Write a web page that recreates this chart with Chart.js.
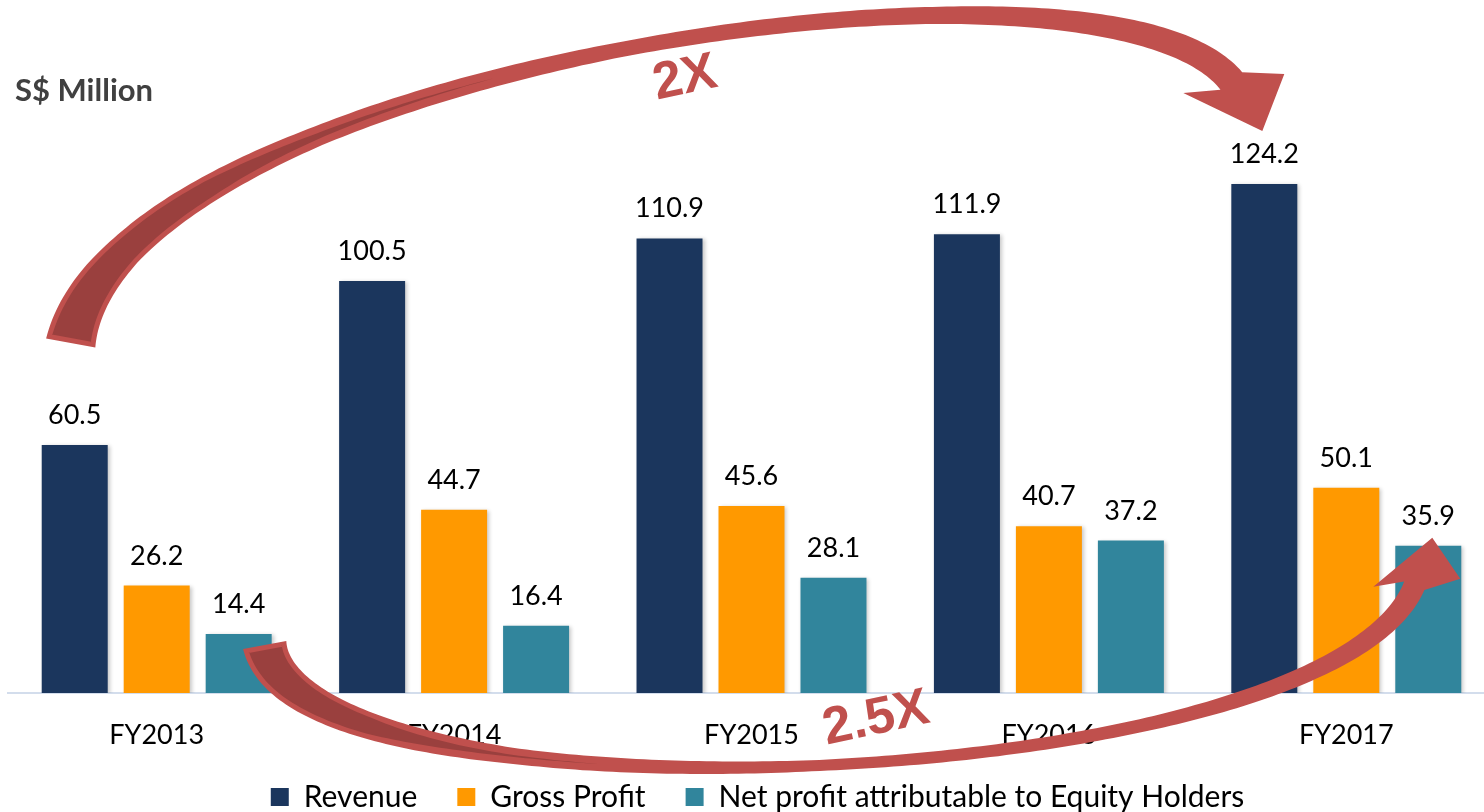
<!DOCTYPE html>
<html><head><meta charset="utf-8">
<script src="https://cdn.jsdelivr.net/npm/chart.js@4.4.1/dist/chart.umd.min.js"></script>
<style>
html,body{margin:0;padding:0;overflow:hidden;background:#fff;width:1484px;height:812px}
#wrap{position:absolute;left:0;top:0;width:1500px;height:831px}
</style></head><body>
<div id="wrap"><canvas id="c"></canvas></div>
<script>
const categories = ['FY2013','FY2014','FY2015','FY2016','FY2017'];
const revenue = [60.5,100.5,110.9,111.9,124.2];
const grossProfit = [26.2,44.7,45.6,40.7,50.1];
const netProfit = [14.4,16.4,28.1,37.2,35.9];
const seriesNames = ['Revenue','Gross Profit','Net profit attributable to Equity Holders'];
const unitLabel = 'S$ Million';
const growthLabels = ['2X','2.5X'];

const FONT = 'Lato, "Liberation Sans", sans-serif';
const COLORS = ['#1B365D','#FF9900','#31859C'];
const RED = '#C0504D', DARK = '#9A403E';

function bez(a,t){const u=1-t;const k0=u*u*u,k1=3*u*u*t,k2=3*u*t*t,k3=t*t*t;
  return {x:k0*a.p0.x+k1*a.c1.x+k2*a.c2.x+k3*a.p3.x,y:k0*a.p0.y+k1*a.c1.y+k2*a.c2.y+k3*a.p3.y};}
function bezD(a,t){const u=1-t;
  return {x:3*u*u*(a.c1.x-a.p0.x)+6*u*t*(a.c2.x-a.c1.x)+3*t*t*(a.p3.x-a.c2.x),
          y:3*u*u*(a.c1.y-a.p0.y)+6*u*t*(a.c2.y-a.c1.y)+3*t*t*(a.p3.y-a.c2.y)};}
function widthAt(stops,t){for(let i=1;i<stops.length;i++){if(t<=stops[i][0]){const [t0,w0]=stops[i-1],[t1,w1]=stops[i];return w0+(w1-w0)*(t-t0)/(t1-t0);}}return stops[stops.length-1][1];}

function drawArrow(ctx,a){
  const N=200,L=[],R=[],DL=[],DR=[];
  for(let i=0;i<=N;i++){
    const t=i/N,p=bez(a,t),d=bezD(a,t),len=Math.hypot(d.x,d.y);
    const nx=-d.y/len,ny=d.x/len,w=widthAt(a.widths,t)/2;
    L.push([p.x+nx*w,p.y+ny*w]);R.push([p.x-nx*w,p.y-ny*w]);
    if(t<=a.darkEnd){
      const k=t<a.darkEnd*0.5?1:(a.darkEnd-t)/(a.darkEnd*0.5);
      const dw=Math.max(0,w-a.border)*k;
      DL.push([p.x+nx*dw,p.y+ny*dw]);DR.push([p.x-nx*dw,p.y-ny*dw]);
    }
  }
  ctx.save();
  ctx.fillStyle=RED;ctx.beginPath();ctx.moveTo(L[0][0],L[0][1]);
  L.forEach(q=>ctx.lineTo(q[0],q[1]));
  const P=a.p3;
  a.head.forEach(h=>ctx.lineTo(P.x+h[0],P.y+h[1]));
  for(let i=R.length-1;i>=0;i--)ctx.lineTo(R[i][0],R[i][1]);
  ctx.closePath();ctx.fill();
  ctx.fillStyle=DARK;ctx.beginPath();
  const d0=bezD(a,0),l0=Math.hypot(d0.x,d0.y),tx=d0.x/l0*a.border,ty=d0.y/l0*a.border;
  ctx.moveTo(DL[0][0]+tx,DL[0][1]+ty);
  DL.forEach((q,i)=>{if(i>0)ctx.lineTo(q[0],q[1]);});
  for(let i=DR.length-1;i>=0;i--)ctx.lineTo(DR[i][0]+(i===0?tx:0),DR[i][1]+(i===0?ty:0));
  ctx.closePath();ctx.fill();
  ctx.restore();
}
function drawLabel(ctx,text,x,y,rot){
  ctx.save();ctx.translate(x,y);ctx.rotate(rot);
  ctx.font='bold 52px "Liberation Sans", Arial, sans-serif';
  ctx.fillStyle=RED;ctx.textAlign='center';ctx.textBaseline='middle';
  ctx.fillText(text,0,0);ctx.restore();
}

const valueLabels={id:'valueLabels',afterDatasetsDraw(chart){
  const ctx=chart.ctx;ctx.save();
  ctx.font='27px '+FONT;ctx.fillStyle='#000';ctx.textAlign='center';ctx.textBaseline='alphabetic';
  chart.data.datasets.forEach((ds,di)=>{chart.getDatasetMeta(di).data.forEach((bar,i)=>{
    ctx.fillText(ds.data[i].toFixed(1),bar.x,bar.y-21);});});
  ctx.restore();}};

const shadow={id:'shadow',
  beforeDatasetsDraw(chart){const c=chart.ctx;c.save();c.shadowColor='rgba(0,0,0,0.22)';c.shadowBlur=4;c.shadowOffsetX=2;c.shadowOffsetY=1;},
  afterDatasetsDraw(chart){chart.ctx.restore();}};

const blockNudge={id:'blockNudge',afterLayout(chart){
  if(chart.titleBlock){chart.titleBlock.left+=7;chart.titleBlock.right+=7;}
  if(chart.legend){chart.legend.top-=9;chart.legend.bottom-=9;chart.legend.left+=6;chart.legend.right+=6;}}};

const arrows={id:'arrows',afterDraw(chart){
  const ctx=chart.ctx;
  const rev=chart.getDatasetMeta(0).data, np=chart.getDatasetMeta(2).data;
  const last=categories.length-1;
  const t0={x:rev[0].x-4,y:rev[0].y-102}, t3={x:rev[last].x-33,y:rev[last].y-103};
  const top={p0:t0,c1:{x:t0.x+49,y:t0.y-273},c2:{x:t3.x-130,y:t3.y-160},p3:t3,
    widths:[[0,50],[0.12,34],[0.3,20],[0.5,15],[0.7,17],[0.85,23],[1,28]],
    darkEnd:0.42,border:5,
    head:[[-48,12],[31,50],[53,-7]]};
  drawArrow(ctx,top);
  const b0={x:np[0].x+26,y:np[0].y+11}, b3={x:np[last].x-14,y:np[last].y+40};
  const bot={p0:b0,c1:{x:b0.x+35,y:b0.y+190},c2:{x:b3.x-88,y:b3.y+210},p3:b3,
    widths:[[0,44],[0.12,32],[0.3,16],[0.5,11],[0.7,13],[0.85,17],[1,22]],
    darkEnd:0.36,border:5,
    head:[[46,-7],[18,-48],[-41,1]]};
  drawArrow(ctx,bot);
  const r=-12*Math.PI/180;
  const pt=bez(top,0.55), pb=bez(bot,0.55);
  drawLabel(ctx,growthLabels[0],pt.x-16,pt.y+43,r);
  drawLabel(ctx,growthLabels[1],pb.x-25,pb.y-41,r);
}};

new Chart(document.getElementById('c'),{
  type:'bar',
  data:{labels:categories,datasets:[
    {label:seriesNames[0],data:revenue,backgroundColor:COLORS[0]},
    {label:seriesNames[1],data:grossProfit,backgroundColor:COLORS[1]},
    {label:seriesNames[2],data:netProfit,backgroundColor:COLORS[2]}]},
  options:{
    responsive:true,maintainAspectRatio:false,animation:false,devicePixelRatio:1,
    datasets:{bar:{categoryPercentage:0.827,barPercentage:0.805,borderWidth:0}},
    layout:{padding:{left:8,right:5,top:0,bottom:0}},
    scales:{
      x:{grid:{display:false,drawTicks:false},border:{display:true,color:'#D3DDEC',width:2},
         ticks:{color:'#000',padding:26,font:{family:FONT,size:27}},
         afterFit(s){s.height=58;}},
      y:{display:false,min:0,max:140}
    },
    plugins:{
      legend:{position:'bottom',labels:{boxWidth:18,boxHeight:18,padding:40,color:'#000',font:{family:FONT,size:30}}},
      title:{display:true,text:unitLabel,align:'start',color:'#404040',font:{family:FONT,size:31,weight:'bold'},padding:{top:72,bottom:10}},
      tooltip:{enabled:false}
    }
  },
  plugins:[shadow,valueLabels,blockNudge,arrows]
});
</script>
</body></html>
